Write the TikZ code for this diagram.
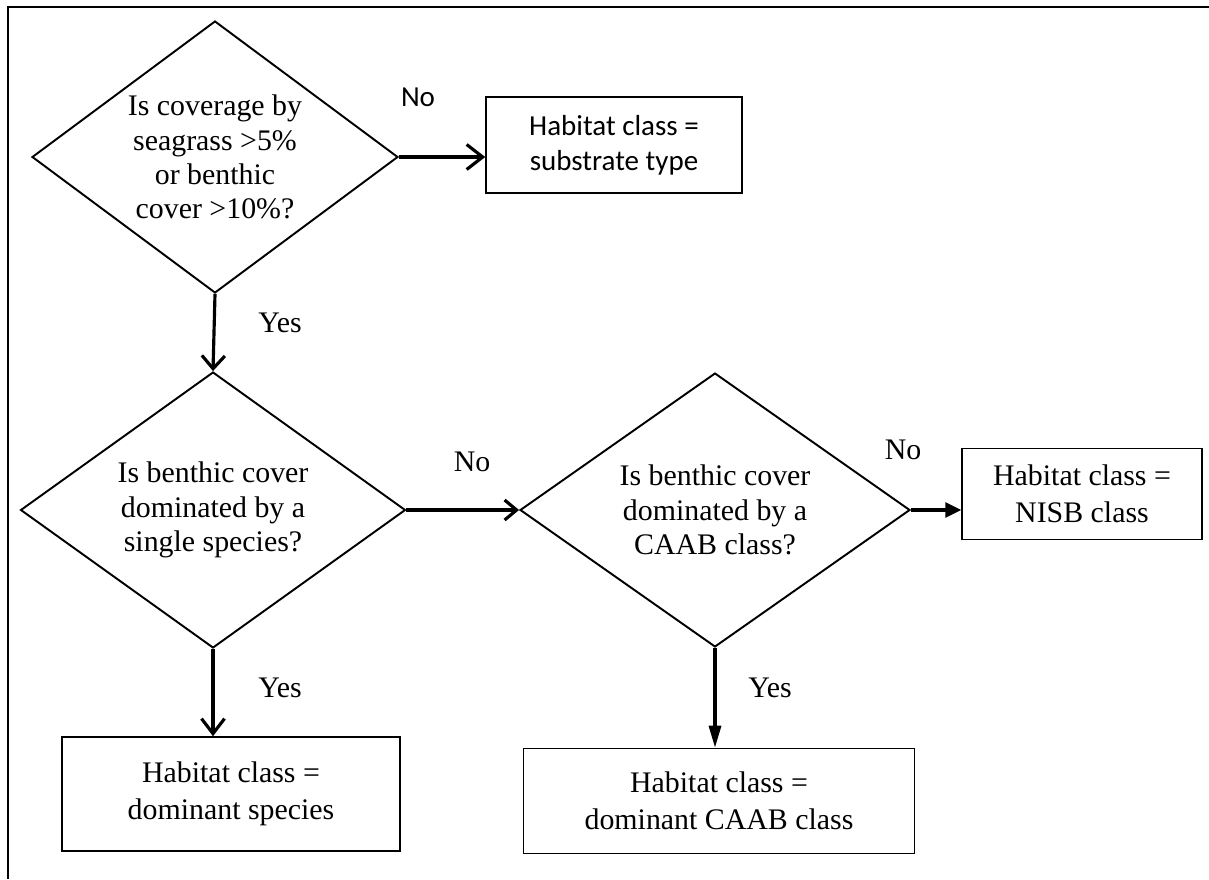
\documentclass[tikz,border=0pt]{standalone}
\usepackage{fontspec}
\setmainfont{Liberation Serif}
\newfontfamily\timesfont{Liberation Serif}
\newfontfamily\calibfont{Carlito}
\usetikzlibrary{shapes.geometric,arrows.meta}

\tikzset{
  question/.style={draw, diamond, line width=1.1pt, inner sep=0pt, aspect=1.35,
    align=center, font=\timesfont\fontsize{17}{19.5}\selectfont},
  outcome/.style={draw, rectangle, line width=0.9pt, inner sep=0pt,
    align=center, font=\timesfont\fontsize{17}{21}\selectfont},
  outcomesans/.style={outcome, font=\calibfont\fontsize{16.5}{20}\selectfont},
  link/.style={line width=1.8pt},
  answer/.style={font=\timesfont\fontsize{17}{19.5}\selectfont},
  answersans/.style={font=\calibfont\fontsize{16.5}{20}\selectfont},
}

\begin{document}
\begin{tikzpicture}[x=0.02cm, y=-0.02cm]
            \useasboundingbox (0,0) rectangle (1209,879);
            % frame of the figure (top and left edges only)
            \draw[line width=1.6pt] (1209,7) -- (8,7) -- (8,879);

            % decision nodes
            \node[question, minimum width=7.32cm, minimum height=5.44cm] (q1) at (215,157)
                {Is coverage by\\ seagrass >5\%\\ or benthic\\ cover >10\%?};
            \node[question, minimum width=7.7cm, minimum height=5.52cm] (q2) at (213,510)
                {Is benthic cover\\ dominated by a\\ single species?};
            \node[question, minimum width=7.8cm, minimum height=5.48cm] (q3) at (715,510)
                {Is benthic cover\\ dominated by a\\ CAAB class?};

            % outcome boxes
            \node[outcomesans, minimum width=5.12cm, minimum height=1.92cm] (sub) at (614,145)
                {Habitat class =\\ substrate type};
            \node[outcome, minimum width=4.8cm, minimum height=1.82cm] (nisb) at (1082,494)
                {Habitat class =\\ NISB class};
            \node[outcome, minimum width=6.76cm, minimum height=2.28cm] (dsp) at (231,794)
                {Habitat class =\\ dominant species};
            \node[outcome, minimum width=7.82cm, minimum height=2.1cm] (dcaab) at (719,801)
                {Habitat class =\\ dominant CAAB class};

            % connectors
            \draw[link, -{Straight Barb[length=3.2mm, width=5mm, line width=1.8pt]}] (q1.east) -- (q1.east -| sub.west);
            \draw[link, -{Straight Barb[length=2.6mm, width=4.6mm, line width=1.8pt]}] (q1.south) -- (q2.north);
            \draw[link, -{Straight Barb[length=2.4mm, width=4mm, line width=1.8pt]}] (q2.east) -- (q3.west);
            \draw[link, -{Triangle[length=3.2mm, width=3mm]}] (q3.east) -- (q3.east -| nisb.west);
            \draw[link, -{Straight Barb[length=3mm, width=4.6mm, line width=1.8pt]}] (q2.south) -- (q2.south |- dsp.north);
            \draw[link, -{Triangle[length=4.4mm, width=2.4mm]}] (q3.south) -- (q3.south |- dcaab.north);

            % answer labels
            \node[answersans] (no1) at (418,97) {No};
            \node[answer] (yes1) at (280,323) {Yes};
            \node[answer] (no2) at (472,462) {No};
            \node[answer] (no3) at (903,450) {No};
            \node[answer] (yes2) at (280,688) {Yes};
            \node[answer] (yes3) at (770,688) {Yes};
        \end{tikzpicture}
\end{document}
